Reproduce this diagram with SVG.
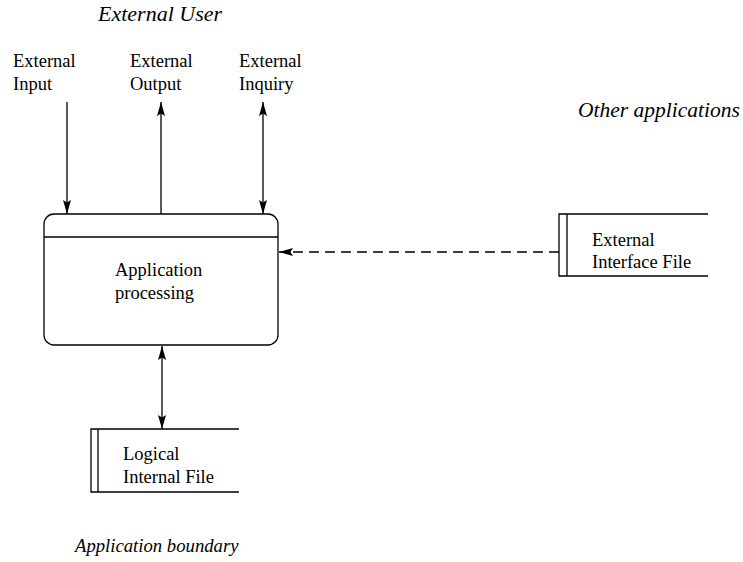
<svg xmlns="http://www.w3.org/2000/svg" width="743" height="562" viewBox="0 0 743 562">
<defs>
<style>
.t{font-family:"Liberation Serif","Times New Roman",serif;font-size:18.5px;fill:#000}
.i{font-family:"Liberation Serif","Times New Roman",serif;font-style:italic;fill:#000}
.ln{stroke:#000;stroke-width:1.3;fill:none}
.bx{stroke:#000;stroke-width:1.3;fill:#fff}
</style>
<marker id="ah" viewBox="0 0 14 8" refX="14" refY="4" markerWidth="14" markerHeight="8" markerUnits="userSpaceOnUse" orient="auto-start-reverse">
<path d="M0,0 L14,4 L0,8 L2.5,4 z" fill="#000"/>
</marker>
</defs>
<rect width="743" height="562" fill="#fff"/>
<g id="labels">
<text class="i" x="98" y="21" font-size="22">External User</text>
<text class="i" x="578" y="117" font-size="21.5">Other applications</text>
<text class="i" x="75" y="552" font-size="18.7">Application boundary</text>
</g>
<g id="ext-input"><text class="t" x="13" y="67">External</text><text class="t" x="13" y="90">Input</text></g>
<g id="ext-output"><text class="t" x="130" y="67">External</text><text class="t" x="130" y="90">Output</text></g>
<g id="ext-inquiry"><text class="t" x="239" y="67">External</text><text class="t" x="239" y="90">Inquiry</text></g>
<g id="app-processing">
<rect class="bx" x="44" y="214" width="234" height="131" rx="10" ry="10"/>
<line class="ln" x1="44" y1="237" x2="278" y2="237"/>
<text class="t" x="115" y="276">Application</text>
<text class="t" x="115" y="299">processing</text>
</g>
<g id="eif">
<path class="ln" d="M708,214 H559 V276 H708 M567,214 V276"/>
<text class="t" x="592" y="246">External</text>
<text class="t" x="592" y="268">Interface File</text>
</g>
<g id="lif">
<path class="ln" d="M239,429 H91 V492 H239 M98,429 V492"/>
<text class="t" x="123" y="460">Logical</text>
<text class="t" x="123" y="483">Internal File</text>
</g>
<g id="connectors">
<line class="ln" x1="67" y1="102" x2="67" y2="214" marker-end="url(#ah)"/>
<line class="ln" x1="161" y1="214" x2="161" y2="102" marker-end="url(#ah)"/>
<line class="ln" x1="263" y1="102" x2="263" y2="214" marker-start="url(#ah)" marker-end="url(#ah)"/>
<line class="ln" x1="559" y1="252" x2="279" y2="252" stroke-dasharray="10,6" marker-end="url(#ah)"/>
<line class="ln" x1="162" y1="346" x2="162" y2="429" marker-start="url(#ah)" marker-end="url(#ah)"/>
</g>
</svg>
